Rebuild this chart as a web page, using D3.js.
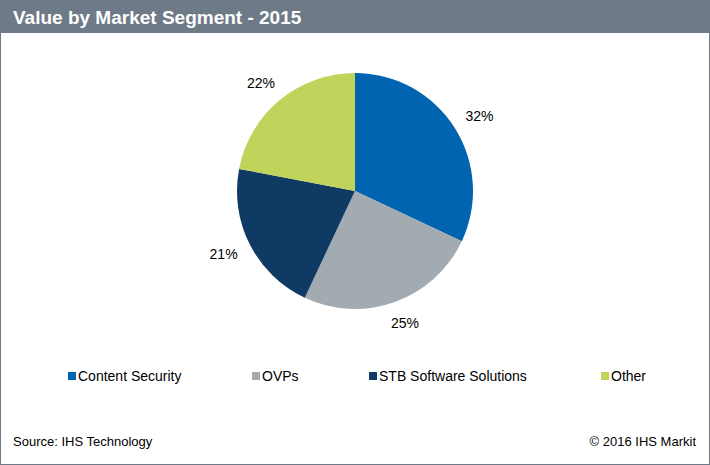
<!DOCTYPE html>
<html>
<head>
<meta charset="utf-8">
<script src="https://cdn.jsdelivr.net/npm/d3@7"></script>
<style>
  body { margin: 0; background: #fff; }
  svg { display: block; font-family: "Liberation Sans", Arial, sans-serif; }
</style>
</head>
<body>
<div id="chart"></div>
<script>
// segments and their share, 2015
const segments = ["Content Security", "OVPs", "STB Software Solutions", "Other"];
const shares = [32, 25, 21, 22];
const colors = ["#0064b0", "#a2abb2", "#0f3a63", "#c0d35a"];
const legendX = [68, 252, 369, 601];

const W = 710, H = 465;
const svg = d3.select("#chart").append("svg")
    .attr("width", W)
    .attr("height", H);

// frame and title bar
svg.append("rect")
    .attr("x", 0.5).attr("y", 0.5)
    .attr("width", W - 1).attr("height", H - 1)
    .attr("fill", "#fff")
    .attr("stroke", "#6e7a88");
svg.append("rect")
    .attr("x", 0).attr("y", 0)
    .attr("width", W).attr("height", 33)
    .attr("fill", "#6e7a88");
svg.append("text")
    .attr("x", 13).attr("y", 24)
    .attr("fill", "#fff")
    .style("font-size", "19px")
    .style("font-weight", "bold")
    .text("Value by Market Segment - 2015");

// pie
const cx = 355, cy = 191, r = 118;
const data = segments.map((s, i) => ({ name: s, value: shares[i], color: colors[i] }));
const pie = d3.pie().sort(null).value(d => d.value);
const arc = d3.arc().innerRadius(0).outerRadius(r);

const g = svg.append("g").attr("transform", "translate(" + cx + "," + cy + ")");
const arcs = pie(data);
g.selectAll("path")
    .data(arcs)
    .enter()
    .append("path")
    .attr("d", arc)
    .attr("fill", d => d.data.color);

// labels sit just outside the slice, box edge pushed off the rim
const gap = 16, lw = 27, lh = 12;
function labelPos(d) {
    const a = (d.startAngle + d.endAngle) / 2;
    const dx = Math.sin(a), dy = -Math.cos(a);
    return [dx * (r + gap) + dx * lw / 2, dy * (r + gap) + dy * lh / 2];
}
g.selectAll("text.lbl")
    .data(arcs)
    .enter()
    .append("text")
    .attr("class", "lbl")
    .attr("transform", d => "translate(" + labelPos(d) + ")")
    .attr("dy", "0.35em")
    .attr("text-anchor", "middle")
    .style("font-size", "14px")
    .attr("fill", "#000")
    .text(d => d.data.value + "%");

// legend
const leg = svg.selectAll("g.leg")
    .data(data)
    .enter()
    .append("g")
    .attr("class", "leg")
    .attr("transform", (d, i) => "translate(" + legendX[i] + ",372)");
leg.append("rect")
    .attr("width", 8).attr("height", 8)
    .attr("fill", d => d.color);
leg.append("text")
    .attr("x", 10).attr("y", 9)
    .style("font-size", "14px")
    .attr("fill", "#000")
    .text(d => d.name);

// footer
svg.append("text")
    .attr("x", 13).attr("y", 446)
    .style("font-size", "13px")
    .text("Source: IHS Technology");
svg.append("text")
    .attr("x", 696).attr("y", 446)
    .attr("text-anchor", "end")
    .style("font-size", "13px")
    .text("\u00a9 2016 IHS Markit");
</script>
</body>
</html>
